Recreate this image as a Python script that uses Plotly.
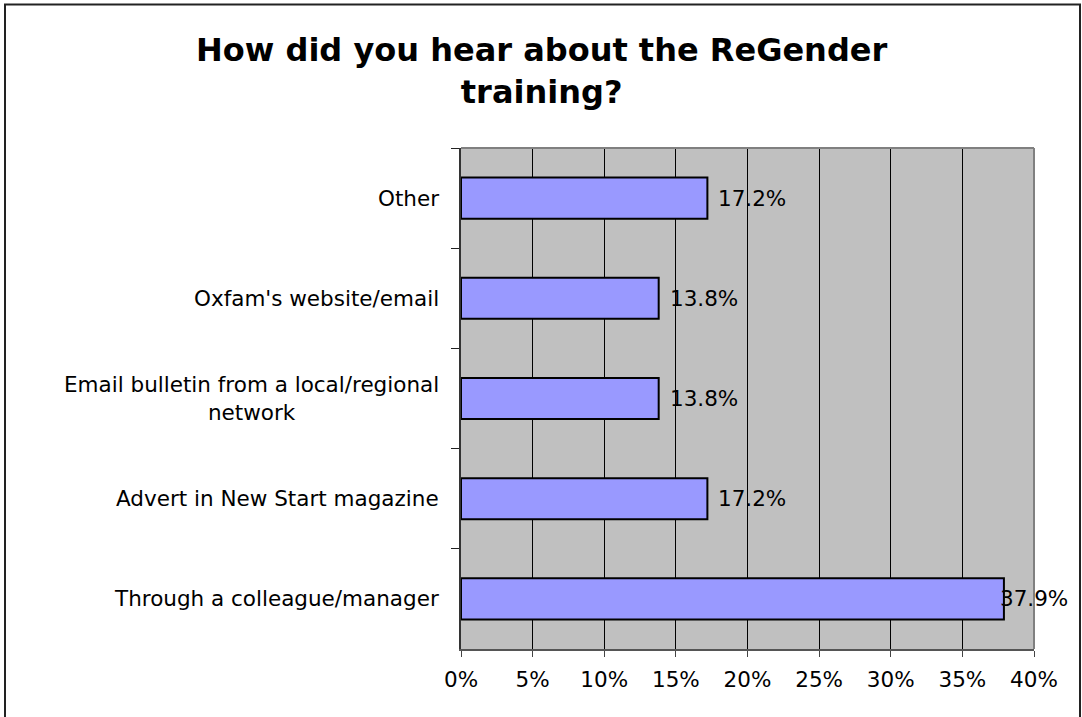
import plotly.graph_objects as go

categories = ["Other", "Oxfam's website/email", "Email bulletin from a local/regional<br>network",
              "Advert in New Start magazine", "Through a colleague/manager"]
values = [0.172, 0.138, 0.138, 0.172, 0.379]
value_labels = ["17.2%", "13.8%", "13.8%", "17.2%", "37.9%"]
label_shift = [9, 9, 9, 9, -6]
x_ticks = [0, 0.05, 0.10, 0.15, 0.20, 0.25, 0.30, 0.35, 0.40]
x_tick_text = ["0%", "5%", "10%", "15%", "20%", "25%", "30%", "35%", "40%"]
title_text = "<b>How did you hear about the ReGender<br>training?</b>"

FONT = "Verdana, DejaVu Sans, sans-serif"
W, H = 1082, 717
L, R, T, B = 461, 1034, 148, 649
FS = 21.5

fig = go.Figure()
fig.add_trace(go.Bar(
    y=categories, x=values, orientation="h", width=0.41,
    marker=dict(color="#9999FF", line=dict(color="#000000", width=2)),
    hoverinfo="skip",
))

def px(x):
    return (x - L) / (R - L)

def py(y):
    return (B - y) / (B - T)

annotations = []
for c, v, t, s in zip(categories, values, value_labels, label_shift):
    annotations.append(dict(x=v, y=c, xref="x", yref="y", text=t, showarrow=False,
                            xanchor="left", yanchor="middle", xshift=s,
                            font=dict(family=FONT, size=FS, color="#000")))
for c in categories:
    annotations.append(dict(x=0, y=c, xref="paper", yref="y", text=c, showarrow=False,
                            xanchor="right", yanchor="middle", xshift=-20, align="center",
                            font=dict(family=FONT, size=FS, color="#000")))
annotations.append(dict(x=px(W / 2), y=py(29), xref="paper", yref="paper", text=title_text,
                        showarrow=False, xanchor="center", yanchor="top", align="center",
                        font=dict(family=FONT, size=32, color="#000")))

shapes = [
    dict(type="rect", xref="paper", yref="paper", x0=px(5), x1=px(1080), y0=py(730), y1=py(4.5),
         line=dict(color="#222222", width=2), layer="above"),
    dict(type="line", xref="paper", yref="paper", x0=0, x1=1, y0=1, y1=1,
         line=dict(color="#808080", width=2), layer="above"),
    dict(type="line", xref="paper", yref="paper", x0=1, x1=1, y0=0, y1=1,
         line=dict(color="#808080", width=2), layer="above"),
]

fig.update_layout(
    width=W, height=H,
    margin=dict(l=L, r=W - R, t=T, b=H - B, pad=0),
    paper_bgcolor="#FFFFFF", plot_bgcolor="#C0C0C0",
    showlegend=False,
    xaxis=dict(range=[0, 0.40], tickvals=x_ticks, ticktext=x_tick_text,
               showgrid=True, gridcolor="#000000", gridwidth=1,
               ticks="outside", ticklen=6, tickcolor="#444", tickwidth=1,
               ticklabelstandoff=4,
               showline=True, linecolor="#555555", linewidth=2,
               tickfont=dict(family=FONT, size=FS, color="#000"),
               zeroline=False, fixedrange=True),
    yaxis=dict(autorange="reversed", type="category", showticklabels=False,
               ticks="outside", ticklen=8, tickcolor="#222", tickwidth=1,
               tickson="boundaries", showgrid=False,
               showline=True, linecolor="#333333", linewidth=2, fixedrange=True),
    annotations=annotations,
    shapes=shapes,
)

fig.write_html("out.html", config={"displayModeBar": False},
               post_script="document.body.style.margin='0';")
